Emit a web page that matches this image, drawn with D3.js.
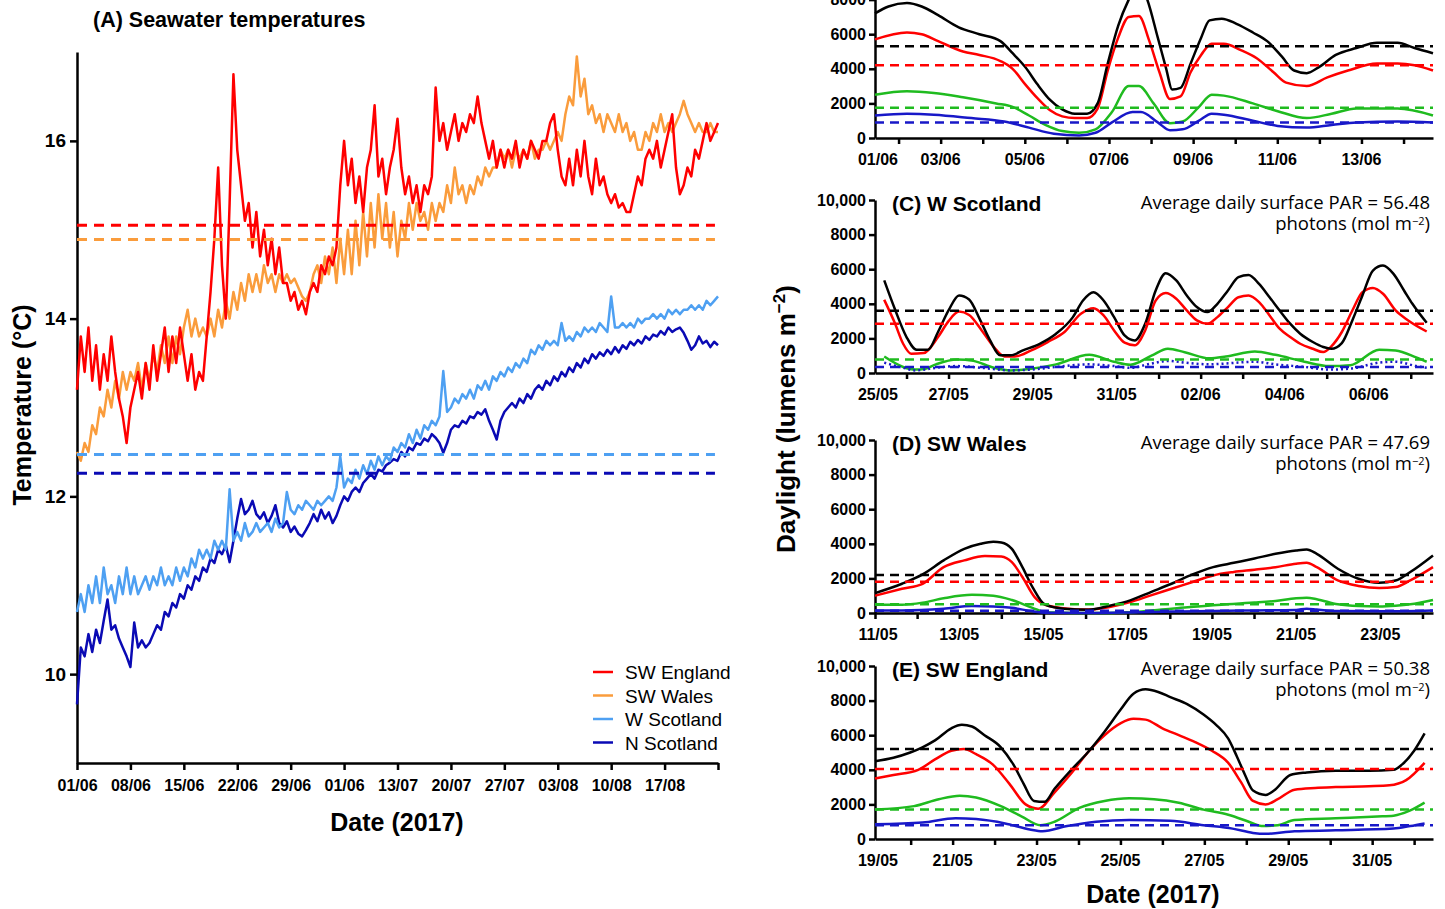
<!DOCTYPE html>
<html>
<head>
<meta charset="utf-8">
<script src="https://cdn.jsdelivr.net/npm/d3@7"></script>
<style>
  body { margin: 0; background: #fff; }
  svg { display: block; }
  .axis path, .axis line { stroke: #000; stroke-width: 2.5px; }
  .axis text { font-family: "Liberation Sans", Arial, sans-serif; font-weight: bold; fill: #000; }
  .bold { font-family: "Liberation Sans", Arial, sans-serif; font-weight: bold; fill: #000; }
  .plain { font-family: "Liberation Sans", Arial, sans-serif; fill: #000; }
  .par { font-family: "Open Sans", sans-serif; fill: #000; }
</style>
</head>
<body>
<svg id="chart" width="1445" height="909"></svg>
<script>
// ---- Panel A: seawater temperatures, one reading every half day from 01/06 ----
const tempStep = 0.5;
const tempDayTicks = [0, 7, 14, 21, 28, 35, 42, 49, 56, 63, 70, 77, 84];
const tempTickLabels = ["01/06", "08/06", "15/06", "22/06", "29/06", "01/06", "13/07", "20/07", "27/07", "03/08", "10/08", "17/08", ""];
const tempYTicks = [10, 12, 14, 16];

const tempSWEngland = [
  13.2,13.8,13.4,13.9,13.3,13.7,13.2,13.6,13.3,13.8,
  13.4,13.1,12.9,12.6,13.0,13.2,13.4,13.1,13.5,13.2,
  13.7,13.3,13.6,13.9,13.4,13.8,13.5,13.9,13.6,13.3,
  13.6,13.2,13.4,13.3,13.8,14.3,14.9,15.7,14.6,14.0,
  15.3,16.75,15.9,15.5,15.1,15.3,14.8,15.2,14.7,15.0,
  14.6,14.9,14.5,14.8,14.4,14.4,14.2,14.3,14.1,14.2,
  14.05,14.3,14.4,14.3,14.6,14.5,14.7,14.6,14.8,15.5,
  16.0,15.5,15.8,15.3,15.6,15.2,15.7,15.9,16.4,15.6,
  15.8,15.4,15.7,15.9,16.25,15.7,15.4,15.6,15.3,15.5,
  15.2,15.5,15.4,15.6,16.6,16.0,16.2,15.9,16.1,16.3,
  16.0,16.2,16.1,16.3,16.2,16.5,16.2,16.0,15.8,16.0,
  15.7,15.9,15.7,15.9,15.8,16.0,15.7,15.9,15.8,16.0,
  15.9,15.8,16.0,16.0,16.2,16.3,15.9,15.6,15.5,15.8,
  15.5,15.9,15.6,16.0,15.6,15.4,15.8,15.5,15.6,15.4,
  15.3,15.4,15.25,15.3,15.2,15.2,15.4,15.6,15.5,15.8,
  15.9,15.8,16.0,15.7,15.9,16.1,16.3,15.7,15.4,15.5,
  15.7,15.6,15.9,15.8,16.0,16.2,16.0,16.1,16.2
];
const tempSWWales = [
  12.5,12.4,12.6,12.5,12.8,12.7,13.0,12.9,13.2,13.0,
  13.3,13.1,13.4,13.2,13.4,13.3,13.5,13.2,13.5,13.3,
  13.6,13.4,13.7,13.5,13.8,13.5,13.8,13.6,13.9,14.1,
  13.8,14.0,13.8,13.9,13.8,14.0,13.8,14.1,13.9,14.2,
  14.0,14.3,14.1,14.4,14.2,14.5,14.3,14.5,14.3,14.6,
  14.4,14.5,14.3,14.5,14.4,14.5,14.4,14.45,14.35,14.25,
  14.2,14.3,14.5,14.6,14.4,14.7,14.5,14.8,14.4,14.9,
  14.5,15.0,14.5,15.1,14.6,15.2,14.7,15.3,14.8,15.4,
  14.9,15.3,14.8,15.2,14.7,15.1,14.9,15.3,15.0,15.3,
  15.1,15.2,15.0,15.3,15.1,15.3,15.2,15.5,15.3,15.7,
  15.4,15.5,15.3,15.5,15.4,15.6,15.5,15.7,15.6,15.7,
  15.7,15.9,15.8,15.9,15.7,15.9,15.8,15.9,15.8,16.0,
  15.8,15.9,15.9,16.0,15.9,16.0,16.1,16.0,16.3,16.5,
  16.4,16.95,16.5,16.7,16.3,16.4,16.2,16.3,16.1,16.3,
  16.2,16.1,16.3,16.1,16.2,16.0,16.1,15.9,15.9,16.1,
  16.0,16.2,16.1,16.3,16.1,16.2,16.1,16.2,16.3,16.45,
  16.3,16.2,16.1,16.2,16.1,16.1,16.2,16.1,16.1
];
const tempWScotland = [
  10.7,10.9,10.7,11.0,10.8,11.1,10.8,11.2,10.9,11.0,
  10.8,11.1,10.9,11.2,10.9,11.1,10.9,11.0,11.1,10.95,
  11.1,11.0,11.2,11.0,11.1,11.0,11.2,11.05,11.2,11.1,
  11.3,11.2,11.4,11.3,11.4,11.3,11.5,11.4,11.5,11.4,
  12.08,11.5,11.6,11.5,11.7,11.55,11.6,11.7,11.6,11.65,
  11.7,11.6,11.75,11.65,11.7,12.05,11.85,11.8,11.9,11.85,
  11.95,11.9,11.85,11.95,11.9,11.95,12.0,11.95,12.1,12.45,
  12.1,12.2,12.15,12.3,12.2,12.35,12.25,12.4,12.3,12.45,
  12.35,12.45,12.4,12.55,12.5,12.6,12.55,12.7,12.6,12.75,
  12.65,12.8,12.75,12.85,12.8,12.9,13.41,12.95,13.0,13.1,
  13.05,13.15,13.1,13.2,13.1,13.25,13.2,13.3,13.2,13.35,
  13.3,13.4,13.35,13.45,13.4,13.5,13.45,13.55,13.5,13.65,
  13.6,13.7,13.65,13.75,13.7,13.75,13.7,13.95,13.75,13.8,
  13.75,13.85,13.8,13.9,13.85,13.9,13.85,13.95,13.9,13.85,
  14.25,13.9,13.9,13.95,13.9,13.95,13.9,14.0,13.95,14.0,
  14.0,14.05,14.0,14.05,14.0,14.1,14.05,14.1,14.05,14.1,
  14.1,14.15,14.1,14.15,14.1,14.2,14.15,14.2,14.25
];
const tempNScotland = [
  9.66,10.3,10.2,10.45,10.25,10.5,10.35,10.6,10.84,10.5,
  10.55,10.4,10.3,10.2,10.08,10.58,10.3,10.38,10.3,10.35,
  10.45,10.55,10.5,10.7,10.65,10.8,10.75,10.9,10.85,11.0,
  10.95,11.1,11.05,11.2,11.15,11.3,11.25,11.4,11.35,11.45,
  11.26,11.5,11.75,11.97,11.8,11.85,11.95,11.8,11.75,11.82,
  11.7,11.78,11.9,11.7,11.65,11.72,11.6,11.66,11.58,11.55,
  11.62,11.7,11.8,11.72,11.85,11.75,11.82,11.7,11.78,11.9,
  12.0,11.95,12.05,12.1,12.05,12.15,12.2,12.25,12.2,12.3,
  12.28,12.35,12.38,12.42,12.4,12.5,12.45,12.55,12.52,12.6,
  12.58,12.65,12.62,12.7,12.66,12.6,12.49,12.6,12.75,12.8,
  12.78,12.85,12.82,12.9,12.88,12.95,12.92,12.98,12.85,12.75,
  12.64,12.85,12.95,13.0,13.05,13.0,13.1,13.05,13.15,13.1,
  13.2,13.25,13.2,13.3,13.25,13.35,13.3,13.4,13.35,13.45,
  13.4,13.5,13.45,13.55,13.5,13.6,13.55,13.62,13.58,13.65,
  13.6,13.68,13.62,13.7,13.66,13.74,13.7,13.76,13.72,13.8,
  13.76,13.82,13.8,13.86,13.82,13.9,13.85,13.88,13.9,13.84,
  13.75,13.65,13.7,13.8,13.72,13.75,13.68,13.74,13.7
];
const tempSites = ["SW England", "SW Wales", "W Scotland", "N Scotland"];
const tempMeans = [15.05, 14.89, 12.47, 12.26];

// ---- Panels B-E: daylight, [day, lumens m-2] ----
const nScotTotal = [[0.44,7200],[0.76,7600],[1.2,7800],[1.55,7600],[1.94,7100],[2.43,6400],[2.92,6000],[3.42,5600],[3.71,4900],[4.01,4100],[4.3,3100],[4.6,2200],[4.89,1650],[5.19,1400],[5.48,1400],[5.73,2000],[5.97,4300],[6.22,6500],[6.47,8000],[6.71,9000],[6.91,8000],[7.16,5800],[7.36,4000],[7.5,2800],[7.7,2900],[7.94,4300],[8.19,5800],[8.39,6800],[8.68,6900],[9.03,6600],[9.42,6100],[9.76,5600],[10.11,4700],[10.4,3900],[10.7,3750],[10.99,4100],[11.39,4800],[11.88,5200],[12.37,5500],[12.86,5500],[13.26,5200],[13.7,4900]];
const nScotRed = [[0.44,5700],[1.2,6100],[1.55,6000],[1.94,5600],[2.53,5000],[2.92,4800],[3.42,4450],[3.71,4000],[4.01,3100],[4.3,2300],[4.6,1600],[4.89,1250],[5.19,1150],[5.48,1150],[5.73,1700],[5.97,3900],[6.22,5800],[6.47,7000],[6.71,7050],[6.96,5600],[7.2,3800],[7.45,2250],[7.7,2400],[7.94,3800],[8.19,4800],[8.44,5450],[8.73,5450],[9.12,5100],[9.52,4600],[9.91,3800],[10.21,3200],[10.7,3000],[11.19,3500],[11.68,3900],[12.37,4300],[12.86,4300],[13.26,4200],[13.7,3900]];
const nScotGreen = [[0.44,2500],[1.2,2700],[1.84,2600],[2.53,2350],[3.32,2000],[3.71,1800],[4.1,1300],[4.5,750],[4.89,400],[5.29,300],[5.68,500],[6.07,1500],[6.47,3000],[6.71,3000],[7.06,2000],[7.45,850],[7.75,950],[8.14,1800],[8.44,2500],[8.73,2450],[9.42,2000],[10.01,1550],[10.7,1150],[11.29,1400],[11.88,1700],[12.86,1700],[13.7,1300]];
const nScotBlue = [[0.44,1300],[1.2,1400],[1.84,1350],[2.73,1150],[3.51,950],[4.1,600],[4.69,250],[5.29,150],[5.68,300],[6.07,900],[6.56,1500],[6.76,1500],[7.16,900],[7.45,450],[7.75,500],[8.14,1000],[8.44,1400],[8.73,1350],[9.42,1000],[10.01,700],[10.7,600],[11.29,750],[11.88,900],[12.86,950],[13.7,900]];
const nScotMeans = [5300, 4200, 1750, 900];
const nScotDates = ["01/06", "03/06", "05/06", "07/06", "09/06", "11/06", "13/06"];

const wScotTotal = [[0.47,5350],[0.72,3710],[1.0,2080],[1.24,1350],[1.51,1350],[1.75,2370],[2.0,3615],[2.25,4480],[2.49,4250],[2.74,3130],[2.99,1880],[3.23,1020],[3.48,1020],[3.77,1310],[4.17,1690],[4.56,2270],[4.96,3230],[5.2,4190],[5.45,4670],[5.69,4190],[5.94,3230],[6.19,2170],[6.43,1880],[6.68,2850],[6.93,4770],[7.17,5770],[7.42,5350],[7.67,4480],[7.91,3810],[8.16,3520],[8.4,4000],[8.65,4770],[8.9,5540],[9.14,5670],[9.39,5150],[9.64,4380],[9.88,3615],[10.13,2850],[10.37,2270],[10.67,1790],[10.92,1500],[11.11,1400],[11.36,1730],[11.61,3040],[11.85,4480],[12.1,5920],[12.34,6210],[12.59,5730],[12.84,4770],[13.04,4000],[13.38,2900]];
const wScotRed = [[0.47,4230],[0.72,2900],[0.92,1690],[1.11,1115],[1.41,1150],[1.75,2080],[2.0,3000],[2.25,3550],[2.49,3350],[2.79,2460],[3.08,1500],[3.33,960],[3.58,960],[3.97,1310],[4.36,1790],[4.76,2370],[5.15,3420],[5.45,3750],[5.69,3330],[5.94,2460],[6.19,1750],[6.43,1600],[6.68,2460],[6.93,4190],[7.17,4620],[7.42,4290],[7.67,3615],[7.91,3040],[8.16,2850],[8.4,3230],[8.65,3810],[8.9,4380],[9.14,4480],[9.39,4100],[9.64,3330],[9.88,2560],[10.13,2080],[10.37,1690],[10.67,1400],[10.92,1210],[11.11,1540],[11.36,2370],[11.61,3615],[11.85,4670],[12.1,4920],[12.34,4580],[12.64,3615],[12.94,3040],[13.38,2400]];
const wScotGreen = [[0.47,950],[0.92,350],[1.21,200],[1.42,230],[1.7,500],[2.2,780],[2.59,700],[3.08,300],[3.48,150],[3.97,250],[4.56,500],[5.35,1050],[5.94,650],[6.33,480],[6.83,1000],[7.22,1400],[7.62,1200],[8.21,850],[8.6,950],[9.29,1250],[9.78,1050],[10.47,650],[11.06,400],[11.56,450],[12.25,1350],[12.64,1300],[13.13,900],[13.38,650]];
const wScotBlue = [[0.47,600],[0.92,300],[1.21,150],[1.7,300],[2.2,400],[2.79,300],[3.48,150],[3.97,200],[4.56,350],[5.35,500],[5.94,400],[6.33,300],[6.83,550],[7.22,700],[7.62,600],[8.21,500],[8.6,550],[9.29,650],[9.78,500],[10.47,350],[11.06,200],[11.56,250],[12.25,600],[12.64,650],[13.13,400],[13.38,300]];
const wScotMeans = [3600, 2850, 780, 350];
const wScotDates = ["25/05", "27/05", "29/05", "31/05", "02/06", "04/06", "06/06"];

const swWalesTotal = [[0,1150],[0.64,1690],[1.13,2230],[1.63,3040],[2.12,3710],[2.51,4000],[2.81,4115],[3.0,4080],[3.25,3710],[3.5,2650],[3.74,1500],[4.04,480],[4.48,250],[5.07,190],[5.57,420],[6.06,730],[6.55,1210],[7.04,1690],[7.54,2230],[8.03,2650],[8.52,2900],[9.01,3150],[9.51,3420],[10.0,3615],[10.25,3670],[10.49,3420],[10.99,2560],[11.48,1980],[11.97,1750],[12.36,1880],[12.71,2370],[13.25,3330]];
const swWalesRed = [[0,1000],[0.64,1400],[1.13,1690],[1.63,2650],[2.12,3040],[2.61,3290],[3.0,3270],[3.25,2940],[3.5,2080],[3.79,920],[4.04,480],[4.58,250],[5.07,200],[5.57,350],[6.06,630],[6.55,1020],[7.04,1400],[7.54,1790],[8.03,2170],[8.52,2370],[9.01,2500],[9.51,2650],[10.0,2850],[10.25,2900],[10.49,2650],[10.99,1880],[11.48,1560],[11.97,1440],[12.36,1500],[12.71,1880],[13.25,2650]];
const swWalesGreen = [[0,480],[0.64,480],[1.13,600],[1.63,850],[2.3,1050],[2.81,1000],[3.25,750],[3.74,300],[4.04,50],[4.48,20],[5.07,0],[5.57,0],[6.06,50],[7.04,250],[8.03,450],[9.01,600],[9.51,700],[10.0,850],[10.25,880],[10.49,800],[10.99,500],[11.48,400],[11.97,380],[12.36,420],[12.71,500],[13.25,750]];
const swWalesBlue = [[0,150],[0.64,150],[1.63,250],[2.3,400],[2.81,380],[3.25,300],[3.74,100],[4.04,20],[5.07,0],[6.06,30],[7.04,80],[8.03,120],[9.01,150],[10.0,180],[10.25,250],[10.49,200],[10.99,120],[11.97,100],[13.25,150]];
const swWalesMeans = [2200, 1800, 500, 130];
const swWalesDates = ["11/05", "13/05", "15/05", "17/05", "19/05", "21/05", "23/05"];

const swEngTotal = [[0.15,4500],[0.59,4700],[0.99,5000],[1.28,5300],[1.58,5700],[1.97,6400],[2.22,6600],[2.46,6500],[2.76,6000],[3.15,5300],[3.45,4300],[3.69,3200],[3.94,2200],[4.19,2150],[4.43,2900],[4.83,4000],[5.22,5000],[5.62,6200],[6.01,7500],[6.31,8400],[6.6,8650],[6.9,8500],[7.19,8200],[7.59,7800],[7.98,7200],[8.28,6600],[8.57,5800],[8.77,4800],[8.97,3700],[9.16,2800],[9.46,2550],[9.66,2800],[10.05,3700],[10.44,3850],[11.13,3950],[11.92,3950],[12.51,4000],[12.71,4300],[13.0,5100],[13.25,6100]];
const swEngRed = [[0.15,3500],[0.59,3700],[1.18,4000],[1.58,4600],[1.97,5100],[2.27,5200],[2.56,4900],[2.96,4300],[3.35,3200],[3.74,2000],[4.04,1750],[4.43,2700],[4.83,3800],[5.22,5000],[5.62,6000],[6.01,6700],[6.31,6950],[6.6,6900],[7.0,6400],[7.39,6000],[7.78,5600],[8.18,5100],[8.57,4400],[8.87,3300],[9.16,2200],[9.46,2000],[9.75,2300],[10.15,2850],[10.64,2950],[11.13,3000],[11.92,3050],[12.41,3100],[12.81,3400],[13.25,4400]];
const swEngGreen = [[0.15,1700],[1.08,1900],[1.67,2300],[2.17,2500],[2.56,2400],[3.15,1900],[3.65,1300],[4.09,800],[4.43,1000],[5.02,1800],[5.62,2200],[6.21,2350],[6.8,2300],[7.39,2100],[7.98,1700],[8.57,1400],[9.06,1000],[9.36,750],[9.75,800],[10.15,1100],[11.13,1200],[12.12,1300],[12.51,1350],[12.91,1650],[13.25,2100]];
const swEngBlue = [[0.15,850],[1.28,950],[2.07,1200],[2.56,1150],[3.25,900],[3.84,550],[4.14,450],[4.73,750],[5.42,1000],[6.21,1100],[7.19,1050],[7.98,800],[8.67,600],[9.16,350],[9.46,300],[10.15,450],[11.13,500],[12.51,600],[12.91,750],[13.25,900]];
const swEngMeans = [5200, 4050, 1700, 800];
const swEngDates = ["19/05", "21/05", "23/05", "25/05", "27/05", "29/05", "31/05"];

const lightYTicks = [0, 2000, 4000, 6000, 8000, 10000];

// colours
const tempColors = ["#ff0000", "#fa9c3c", "#4ea0f2", "#0a0ab4"];
const lightColors = ["#000000", "#ff0000", "#1fbb1f", "#1818c8"];

const svg = d3.select("#chart");
svg.append("rect").attr("width", 1445).attr("height", 909).attr("fill", "#fff");

// ================= Panel A =================
const xA = d3.scaleLinear().domain([0, 84]).range([77, 718]);
const yA = d3.scaleLinear().domain([9, 17]).range([763, 52]);

const gA = svg.append("g");

const xAxisA = gA.append("g").attr("class", "axis")
  .attr("transform", "translate(0,763)")
  .call(d3.axisBottom(xA).tickValues(tempDayTicks)
    .tickFormat((d, i) => tempTickLabels[i]).tickSize(7).tickSizeOuter(0).tickPadding(10));
xAxisA.selectAll("text").style("font-size", "16px");

const yAxisA = gA.append("g").attr("class", "axis")
  .attr("transform", "translate(77,0)")
  .call(d3.axisLeft(yA).tickValues(tempYTicks).tickSize(7).tickSizeOuter(0).tickPadding(4));
yAxisA.selectAll("text").style("font-size", "19px");

const tempSeries = [tempSWEngland, tempSWWales, tempWScotland, tempNScotland];
const lineA = d3.line()
  .x((d, i) => xA(i * tempStep))
  .y(d => yA(d));

// draw from back to front: N Scotland, W Scotland, SW Wales, SW England
[3, 2, 1, 0].forEach(k => {
  gA.append("path")
    .datum(tempSeries[k])
    .attr("fill", "none")
    .attr("stroke", tempColors[k])
    .attr("stroke-width", 2.5)
    .attr("stroke-linejoin", "round")
    .attr("d", lineA);
});

tempMeans.forEach((m, k) => {
  gA.append("line")
    .attr("x1", xA(0)).attr("x2", xA(83.6))
    .attr("y1", yA(m)).attr("y2", yA(m))
    .attr("stroke", tempColors[k])
    .attr("stroke-width", 3)
    .attr("stroke-dasharray", "10,7");
});

// legend
const legend = gA.append("g").attr("transform", "translate(593,672)");
tempSites.forEach((name, k) => {
  const row = legend.append("g").attr("transform", `translate(0,${k * 23.5})`);
  row.append("line").attr("x1", 0).attr("x2", 20).attr("y1", 0).attr("y2", 0)
    .attr("stroke", tempColors[k]).attr("stroke-width", 2.5);
  row.append("text").attr("class", "plain").attr("x", 32).attr("y", 7)
    .style("font-size", "19px").text(name);
});

gA.append("text").attr("class", "bold")
  .attr("x", 93).attr("y", 27)
  .style("font-size", "21.5px")
  .text("(A) Seawater temperatures");

gA.append("text").attr("class", "bold")
  .attr("transform", "translate(31,405) rotate(-90)")
  .attr("text-anchor", "middle")
  .style("font-size", "25px")
  .text("Temperature (°C)");

gA.append("text").attr("class", "bold")
  .attr("x", 397).attr("y", 831)
  .attr("text-anchor", "middle")
  .style("font-size", "25px")
  .text("Date (2017)");

// ================= Panels B-E =================
const panels = [
  { title: "", par: "", y0: 138, domain: [0.44, 13.7], dates: nScotDates,
    series: [nScotTotal, nScotRed, nScotGreen, nScotBlue], means: nScotMeans, dottedBlue: false },
  { title: "(C) W Scotland", par: "56.48", y0: 373, domain: [0.25, 13.53], dates: wScotDates,
    series: [wScotTotal, wScotRed, wScotGreen, wScotBlue], means: wScotMeans, dottedBlue: true },
  { title: "(D) SW Wales", par: "47.69", y0: 613, domain: [0, 13.25], dates: swWalesDates,
    series: [swWalesTotal, swWalesRed, swWalesGreen, swWalesBlue], means: swWalesMeans, dottedBlue: false },
  { title: "(E) SW England", par: "50.38", y0: 839, domain: [0.15, 13.45], dates: swEngDates,
    series: [swEngTotal, swEngRed, swEngGreen, swEngBlue], means: swEngMeans, dottedBlue: false }
];

const panelLeft = 875, panelRight = 1433, panelHeight = 173;

panels.forEach(p => {
  const g = svg.append("g");
  const x = d3.scaleLinear().domain(p.domain).range([panelLeft, panelRight]);
  const y = d3.scaleLinear().domain([0, 10000]).range([p.y0, p.y0 - panelHeight]);

  // axes
  const dayTicks = d3.range(Math.ceil(p.domain[0]), p.domain[1]);
  g.append("g").attr("class", "axis")
    .attr("transform", `translate(0,${p.y0})`)
    .call(d3.axisBottom(x).tickValues(dayTicks).tickFormat("").tickSize(6).tickSizeOuter(0));

  const labelG = g.append("g").attr("class", "axis");
  p.dates.forEach((lab, i) => {
    labelG.append("text")
      .attr("x", Math.max(x(i * 2), panelLeft + 3))
      .attr("y", p.y0 + 27)
      .attr("text-anchor", "middle")
      .style("font-size", "16px")
      .text(lab);
  });

  // the top panel is cut by the page edge, so its upper tick labels are left out
  const yTicks = p.y0 - panelHeight < 0 ? lightYTicks.filter(v => y(v) > -2) : lightYTicks;
  const yAx = g.append("g").attr("class", "axis")
    .attr("transform", `translate(${panelLeft},0)`)
    .call(d3.axisLeft(y).tickValues(yTicks)
      .tickFormat(d => d === 10000 ? "10,000" : d3.format("d")(d))
      .tickSize(6).tickSizeOuter(0).tickPadding(3));
  yAx.selectAll("text").style("font-size", "16px");

  const line = d3.line()
    .x(d => x(d[0]))
    .y(d => y(d[1]))
    .curve(d3.curveMonotoneX);

  // green, blue, red, then total on top
  [2, 3, 1, 0].forEach(k => {
    const path = g.append("path")
      .datum(p.series[k])
      .attr("fill", "none")
      .attr("stroke", lightColors[k])
      .attr("stroke-width", 2.5)
      .attr("d", line);
    if (k === 3 && p.dottedBlue) path.attr("stroke-dasharray", "2,3");
  });

  p.means.forEach((m, k) => {
    g.append("line")
      .attr("x1", panelLeft).attr("x2", panelRight)
      .attr("y1", y(m)).attr("y2", y(m))
      .attr("stroke", lightColors[k])
      .attr("stroke-width", 2.5)
      .attr("stroke-dasharray", "9,6");
  });

  if (p.title) {
    g.append("text").attr("class", "bold")
      .attr("x", 892).attr("y", p.y0 - panelHeight + 11)
      .style("font-size", "21px")
      .text(p.title);

    g.append("text").attr("class", "par")
      .attr("x", 1430).attr("y", p.y0 - panelHeight + 9)
      .attr("text-anchor", "end")
      .style("font-size", "18.5px")
      .text(`Average daily surface PAR = ${p.par}`);

    const t2 = g.append("text").attr("class", "par")
      .attr("x", 1430).attr("y", p.y0 - panelHeight + 30)
      .attr("text-anchor", "end")
      .style("font-size", "18.5px");
    t2.append("tspan").text("photons (mol m");
    t2.append("tspan").attr("dy", -5).style("font-size", "11px").text("−2");
    t2.append("tspan").attr("dy", 5).text(")");
  }
});

// right-hand axis titles
const yTitle = svg.append("text").attr("class", "bold")
  .attr("transform", "translate(795,419) rotate(-90)")
  .attr("text-anchor", "middle")
  .style("font-size", "26px");
yTitle.append("tspan").text("Daylight (lumens m");
yTitle.append("tspan").attr("dy", -10).style("font-size", "17px").text("−2");
yTitle.append("tspan").attr("dy", 10).text(")");

svg.append("text").attr("class", "bold")
  .attr("x", 1153).attr("y", 903)
  .attr("text-anchor", "middle")
  .style("font-size", "25px")
  .text("Date (2017)");
</script>
</body>
</html>
